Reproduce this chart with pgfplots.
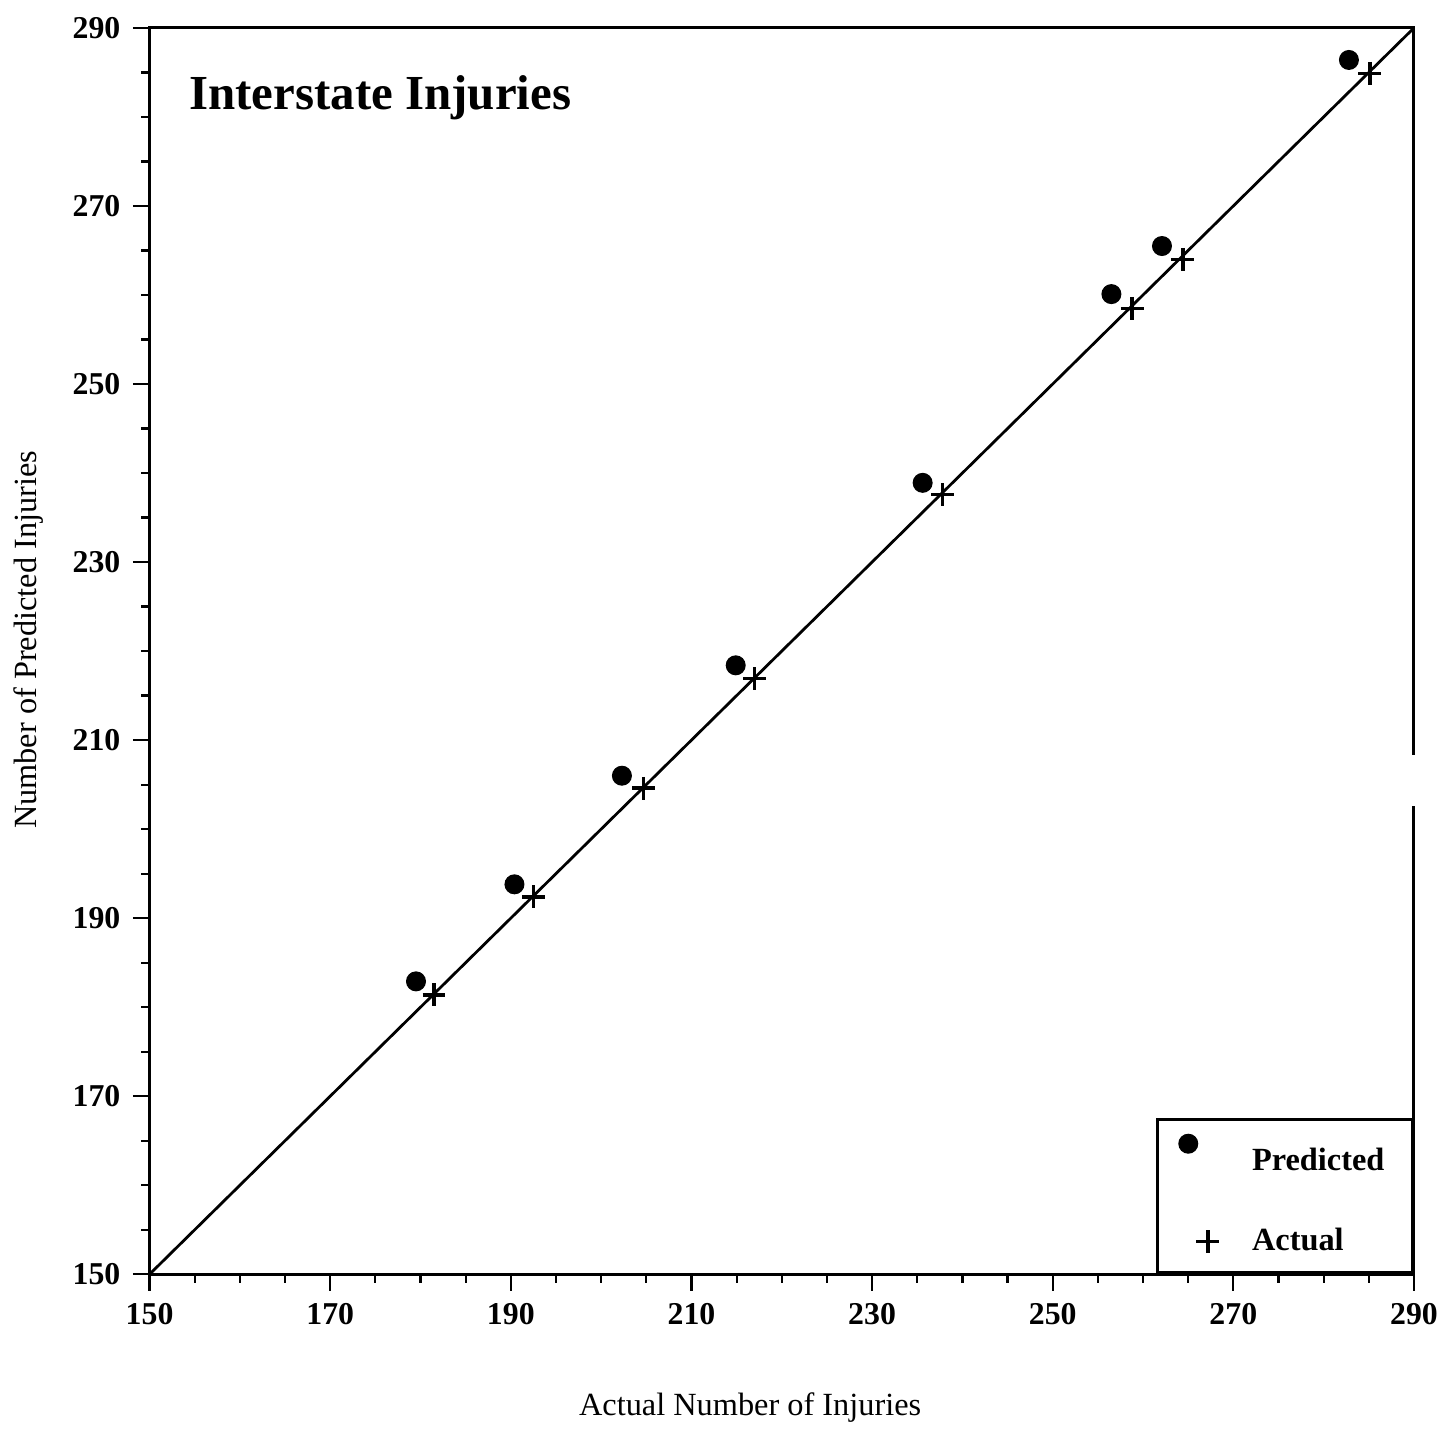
\documentclass[border=0pt]{standalone}
\usepackage{fontspec}
\setmainfont{Liberation Serif}
\usepackage{pgfplots}
\pgfplotsset{compat=1.18}
\begin{document}
\begin{tikzpicture}
\begin{axis}[
  scale only axis,
  width=455.7bp, height=449.2bp,
  xmin=150, xmax=290, ymin=150, ymax=290,
  xtick={150,170,...,290}, ytick={150,170,...,290},
  minor x tick num=3, minor y tick num=3,
  xtick pos=left, ytick pos=left,
  tick align=outside,
  major tick length=6bp, minor tick length=3bp,
  axis line style={line width=1.1bp},
  every tick/.style={black, line width=0.8bp},
  /pgf/number format/assume math mode=true,
  ticklabel style={font=\fontsize{11.5}{13}\selectfont\bfseries},
  xticklabel style={yshift=-1bp},
  yticklabel style={xshift=-1bp},
  xlabel={Actual Number of Injuries},
  ylabel={Number of Predicted Injuries},
  label style={font=\fontsize{11.7}{13}\selectfont},
  xlabel style={at={(axis description cs:0.475,-0.107)}, anchor=center},
  ylabel style={at={(axis description cs:-0.096,0.509)}, anchor=center},
  clip=false,
  legend cell align=left,
  legend style={at={(rel axis cs:1,0)}, anchor=south east, draw=black, line width=1.1bp,
    inner xsep=0pt, inner ysep=0.5bp, row sep=3.4bp,
    font=\fontsize{11.7}{13}\selectfont\bfseries,
    /tikz/every odd column/.style={column sep=2bp}},
]
\addplot[black, line width=1bp, forget plot] coordinates {(150,150) (290,290)};
\addplot[only marks, mark=*, mark size=3.4bp, black,
  legend image code/.code={\path[draw=none,fill=none] (0,-10.8bp) rectangle (30bp,14.6bp);
    \draw[mark=*, mark size=3.4bp, line width=0.4bp] plot coordinates {(11bp,6.4bp)};}]
  table {
x y
179.5 182.9
190.4 193.8
202.3 206.0
214.9 218.4
235.6 238.9
256.5 260.1
262.1 265.5
282.8 286.4
};
\addlegendentry{\makebox[55.8bp][l]{Predicted}}
\addplot[only marks, mark=+, mark size=4.1bp, black, mark options={line width=1.3bp},
  legend image code/.code={\path[draw=none,fill=none] (0,-10.8bp) rectangle (30bp,14.6bp);
    \draw[mark=+, mark size=4.1bp, line width=1.1bp] plot coordinates {(18bp,0bp)};}]
  table {
x y
181.5 181.4
192.5 192.4
204.7 204.6
217.0 216.9
237.8 237.6
258.8 258.5
264.4 264.0
285.1 284.9
};
\addlegendentry{\makebox[55.8bp][l]{Actual}}
\node[anchor=north west, inner sep=0pt, font=\fontsize{17.7}{20}\selectfont\bfseries]
  at (rel axis cs:0.031,0.962) {Interstate Injuries};
\coordinate (g1) at (rel axis cs:1,0.376);
\coordinate (g2) at (rel axis cs:1,0.4168);
\path (rel axis cs:-0.1183,-0.1176) rectangle (rel axis cs:1.0229,1.0224);
\end{axis}
\draw[white, line width=3bp] (g1) -- (g2);
\end{tikzpicture}
\end{document}
